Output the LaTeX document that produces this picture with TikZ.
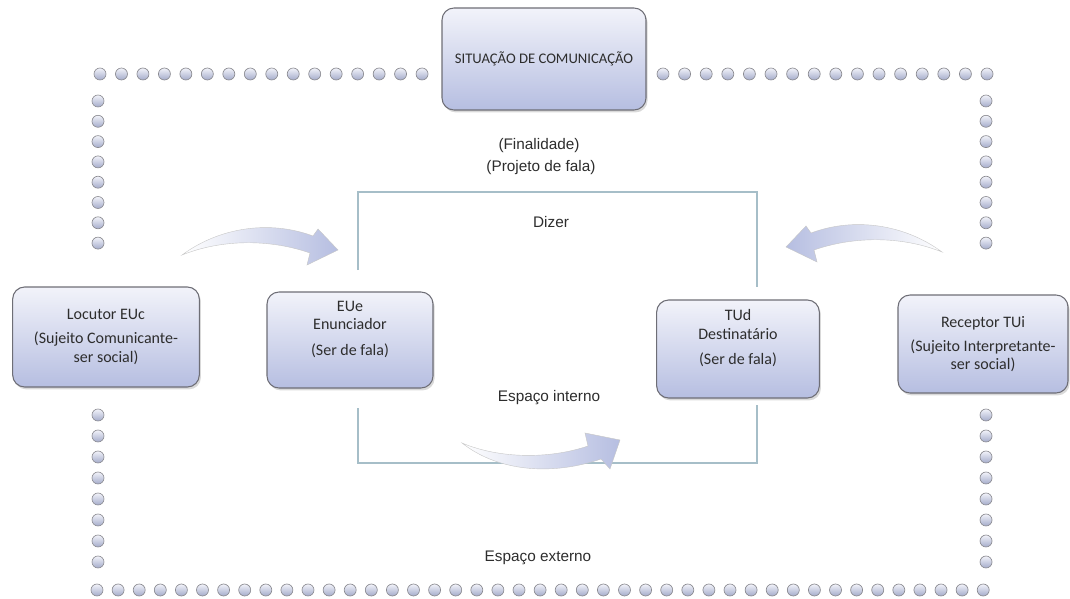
\documentclass[tikz,border=0pt]{standalone}
\usepackage{fontspec}
\setmainfont{Liberation Sans}
\newfontfamily\boxfont{Carlito}
\usetikzlibrary{shadows}
\definecolor{lav}{RGB}{182,190,225}
\definecolor{lavlight}{RGB}{242,243,250}
\definecolor{rim}{RGB}{110,110,118}
\definecolor{framec}{RGB}{166,190,200}
\definecolor{txt}{RGB}{45,45,45}
\tikzset{
  bloco/.style={draw=rim, line width=0.8pt, rounded corners=9pt, top color=lavlight, bottom color=lav,
    drop shadow={opacity=0.3, shadow xshift=1.2pt, shadow yshift=-1.8pt},
    align=center, font=\boxfont\fontsize{12}{14}\selectfont, text=txt},
  bead/.style={draw=rim!80, line width=0.5pt, top color=lavlight, bottom color=lav!90!black},
  rotulo/.style={font=\fontsize{11.5}{13}\selectfont, text=txt},
  moldura/.style={draw=framec, line width=1.8pt},
  seta/.style={draw=gray!45, line width=0.3pt}
}
\begin{document}
\begin{tikzpicture}[x=0.75pt,y=-0.75pt]
\useasboundingbox (0,0) rectangle (1070,599);
\foreach \i in {0,...,15} \path[bead] ({100+\i*21.47},74) circle[radius=4.5pt];
\foreach \i in {0,...,15} \path[bead] ({663+\i*21.6},74) circle[radius=4.5pt];
\foreach \i in {0,...,42} \path[bead] ({97+\i*21.1},590) circle[radius=4.5pt];
\foreach \i in {0,...,7} {
  \path[bead] (98,{101+\i*20.3}) circle[radius=4.5pt];
  \path[bead] (986,{101+\i*20.3}) circle[radius=4.5pt];
  \path[bead] (98,{415+\i*21}) circle[radius=4.5pt];
  \path[bead] (986,{415+\i*21}) circle[radius=4.5pt];
}
\node[bloco, minimum width=153pt, minimum height=76.5pt, font=\boxfont\fontsize{11}{13}\selectfont] (sit) at (544,59) {SITUAÇÃO DE COMUNICAÇÃO};
\node[bloco, minimum width=140pt, minimum height=75pt] (loc) at (106,337) {Locutor EUc\\[4pt](Sujeito Comunicante-\\ser social)};
\node[bloco, minimum width=124.5pt, minimum height=72pt] (eue) at (350,340) {EUe\\Enunciador\\[5pt](Ser de fala)\\[4pt]};
\node[bloco, minimum width=122pt, minimum height=73.5pt] (tud) at (738,349) {TUd\\Destinatário\\[5pt](Ser de fala)\\[4pt]};
\node[bloco, minimum width=127.5pt, minimum height=73.5pt] (rec) at (983,344) {Receptor TUi\\[4pt](Sujeito Interpretante-\\ser social)};
\node[rotulo] (fin) at (539,146) {(Finalidade)};
\node[rotulo] (proj) at (541,168) {(Projeto de fala)};
\node[rotulo] (diz) at (551,222) {Dizer};
\node[rotulo] (int) at (549,398) {Espaço interno};
\node[rotulo] (ext) at (538,558) {Espaço externo};
\coordinate (ul) at (358,192);
\coordinate (ur) at (757,192);
\coordinate (ll) at (358,463);
\coordinate (lr) at (757,463);
\coordinate (ulend) at (358,270);
\coordinate (urend) at (757,287);
\coordinate (llend) at (358,408);
\coordinate (lrend) at (757,405);
\draw[moldura] (ulend) -- (ul) -- (ur) -- (urend);
\draw[moldura] (llend) -- (ll) -- (lr) -- (lrend);
\path[seta, left color=white, right color=lav] (182,255) .. controls (220,227) and (270,220) .. (313,236) -- (318,229) -- (338,250) -- (307,265) -- (310,253) .. controls (270,239) and (222,239) .. cycle;
\path[seta, right color=white, left color=lav] (942,252) .. controls (904,224) and (854,217) .. (811,233) -- (806,226) -- (786,247) -- (817,262) -- (814,250) .. controls (854,236) and (902,236) .. cycle;
\path[seta, left color=white, right color=lav] (462,443) .. controls (500,459) and (550,459) .. (588,446) -- (585,433) -- (620,440) -- (610,469) -- (601,459) .. controls (555,475) and (500,473) .. cycle;
\end{tikzpicture}
\end{document}
